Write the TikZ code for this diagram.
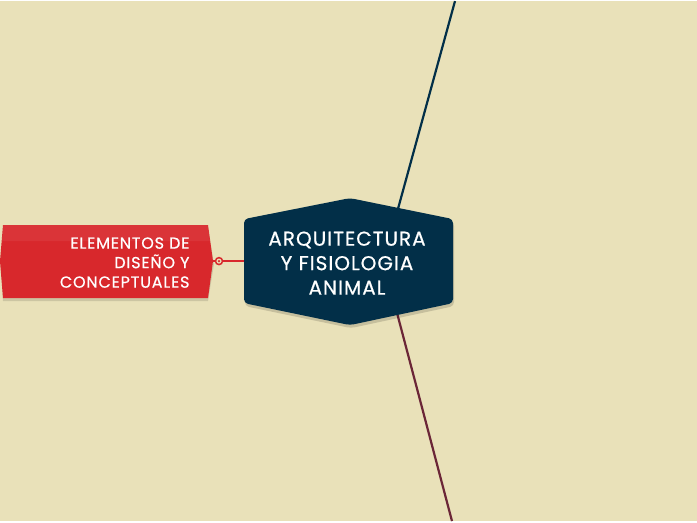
\documentclass[tikz,border=0pt]{standalone}
\usepackage{fontspec}
\setmainfont{Poppins}
\newfontfamily\topicfont{Poppins}[LetterSpace=5, FakeBold=0.6]
\usetikzlibrary{positioning,calc}
\definecolor{bgcol}{RGB}{233,225,185}
\definecolor{rootcol}{RGB}{2,47,72}
\definecolor{redcol}{RGB}{216,40,44}
\definecolor{maroon}{RGB}{107,38,55}

\begin{document}
\begin{tikzpicture}[x=1pt, y=-1pt,
    roottext/.style={text=white, align=center, font=\topicfont\fontsize{20}{24.5}\selectfont},
    redtext/.style={text=white, align=right, font=\topicfont\fontsize{16}{19.5}\selectfont},
    link/.style={line width=2.2pt}]
  \fill[bgcol] (0,0) rectangle (697,520);
  % free ends of the two outgoing lines
  \coordinate (topend) at (455,0);
  \coordinate (botend) at (452,520);
  \coordinate (topstart) at (396,215);
  \coordinate (botstart) at (396,308);
  \draw[rootcol, link] (topstart) -- (topend);
  \draw[maroon, link] (botstart) -- (botend);
  % red topic
  \fill[black, opacity=0.12] (3,227) -- (208,227) -- (214,263) -- (208,300) -- (3,300) -- (1,263) -- cycle;
  \fill[redcol] (3,224) -- (208,224) -- (213,260) -- (208,297) -- (3,297) -- (0,260) -- cycle;
  \fill[white, opacity=0.06] (3,224) -- (208,224) -- (210,240) -- (2,240) -- cycle;
  \node[redtext, anchor=east] (branch) at (193,261.5) {ELEMENTOS DE\\DISEÑO Y\\CONCEPTUALES};
  \coordinate (branchtip) at (213,260);
  % central topic
  \fill[black, opacity=0.15, rounded corners=4pt] (245,221) -- (351,200) -- (454,221) -- (454,305) -- (351,327) -- (245,305) -- cycle;
  \fill[rootcol, rounded corners=4pt] (244,218) -- (350,197) -- (453,218) -- (453,302) -- (350,324) -- (244,302) -- cycle;
  \node[roottext] (root) at (347,262) {ARQUITECTURA\\Y FISIOLOGIA\\ANIMAL};
  \coordinate (rootwest) at (244,260);
  % connector to the red topic
  \draw[redcol, line width=2pt] (branchtip) -- (rootwest);
  \filldraw[redcol, fill=bgcol, line width=1.5pt] ($(branchtip)+(6,0)$) circle (3.5pt);
  \fill[redcol] ($(branchtip)+(6,0)$) circle (1.2pt);
\end{tikzpicture}
\end{document}
